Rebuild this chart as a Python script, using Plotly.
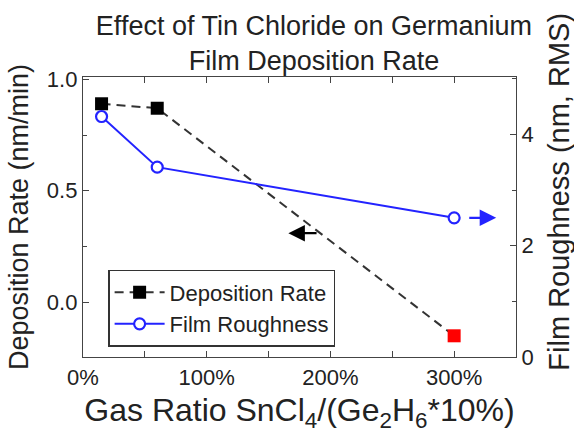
import plotly.graph_objects as go

# Gas ratio SnCl4/(Ge2H6*10%), in percent
ratio_pct = [15, 60, 300]
# Deposition rate (nm/min)
dep_rate = [0.89, 0.87, -0.15]
dep_colors = ["black", "black", "red"]
# Film roughness (nm, RMS)
roughness = [4.32, 3.41, 2.5]

x_ticks = [0, 100, 200, 300]
x_ticktext = ["0%", "100%", "200%", "300%"]
y_ticks = [0.0, 0.5, 1.0]
y2_ticks = [0, 2, 4]

FONT = "Arial, Liberation Sans, sans-serif"
TXT = "#222222"
AX = "#444444"
BLUE = "rgb(35,35,255)"

fig = go.Figure()

fig.add_trace(go.Scatter(
    x=ratio_pct, y=dep_rate, name="Deposition Rate",
    mode="lines+markers",
    line=dict(color="#333333", width=2, dash="9px,6px"),
    marker=dict(symbol="square", size=13, color=dep_colors, line=dict(width=0)),
))

fig.add_trace(go.Scatter(
    x=ratio_pct, y=roughness, name="Film Roughness", yaxis="y2",
    mode="lines+markers",
    line=dict(color=BLUE, width=2),
    marker=dict(symbol="circle", size=11, color="white", line=dict(color=BLUE, width=2.2)),
))

# Arrows indicating which axis each curve belongs to
fig.add_annotation(
    x=166, y=0.31, ax=190, ay=0.31, xref="x", yref="y", axref="x", ayref="y",
    text="", showarrow=True, arrowhead=2, arrowsize=1.5, arrowwidth=2.2,
    arrowcolor="black", standoff=0, startstandoff=0,
)
fig.add_annotation(
    x=ratio_pct[-1] + 34, y=roughness[-1], ax=ratio_pct[-1] + 11, ay=roughness[-1],
    xref="x", yref="y2", axref="x", ayref="y2",
    text="", showarrow=True, arrowhead=2, arrowsize=1.5, arrowwidth=2.2,
    arrowcolor=BLUE, standoff=0, startstandoff=0,
)

# Right-hand axis title, set slightly above the axis centre
fig.add_annotation(
    text="Film Roughness (nm, RMS)", textangle=-90,
    xref="paper", yref="paper", x=1.099, y=0.59,
    xanchor="center", yanchor="middle", showarrow=False,
    font=dict(family=FONT, size=29, color=TXT),
)

axis_common = dict(
    showline=True, linecolor=AX, linewidth=1.3, ticks="inside", ticklen=6,
    tickcolor=AX, tickwidth=1.3, showgrid=False, zeroline=False,
    tickfont=dict(family=FONT, size=22, color=TXT),
)

fig.update_layout(
    width=574, height=439,
    margin=dict(l=83, r=58, t=77, b=82),
    paper_bgcolor="white", plot_bgcolor="white",
    font=dict(family=FONT, color=TXT),
    title=dict(
        text="Effect of Tin Chloride on Germanium<br>Film Deposition Rate",
        font=dict(family=FONT, size=27, color=TXT),
        x=0.547, xref="container", xanchor="center",
        y=0.92, yref="container", yanchor="top",
    ),
    xaxis=dict(
        **axis_common, range=[0, 350], tickvals=x_ticks, ticktext=x_ticktext,
        mirror="allticks",
        minor=dict(ticks="inside", dtick=50, ticklen=4, tickcolor=AX, tickwidth=1.3),
        title=dict(text="Gas Ratio SnCl<sub>4</sub>/(Ge<sub>2</sub>H<sub>6</sub>*10%)",
                   font=dict(family=FONT, size=32, color=TXT), standoff=10),
    ),
    yaxis=dict(
        **axis_common, range=[-0.245, 1.01], tickvals=y_ticks, tickformat=".1f",
        minor=dict(ticks="inside", dtick=0.25, ticklen=4, tickcolor=AX, tickwidth=1.3),
        title=dict(text="Deposition Rate (nm/min)",
                   font=dict(family=FONT, size=27, color=TXT), standoff=10),
    ),
    yaxis2=dict(
        **axis_common, range=[0, 5.03], tickvals=y2_ticks, overlaying="y", side="right",
        minor=dict(ticks="inside", dtick=1, ticklen=4, tickcolor=AX, tickwidth=1.3),
    ),
    legend=dict(
        x=0.058, y=0.036, xanchor="left", yanchor="bottom",
        bgcolor="white", bordercolor="#333333", borderwidth=1.5,
        font=dict(family=FONT, size=22, color=TXT), tracegroupgap=0,
        itemwidth=50,
    ),
    showlegend=True,
)

fig.write_html("out.html")
